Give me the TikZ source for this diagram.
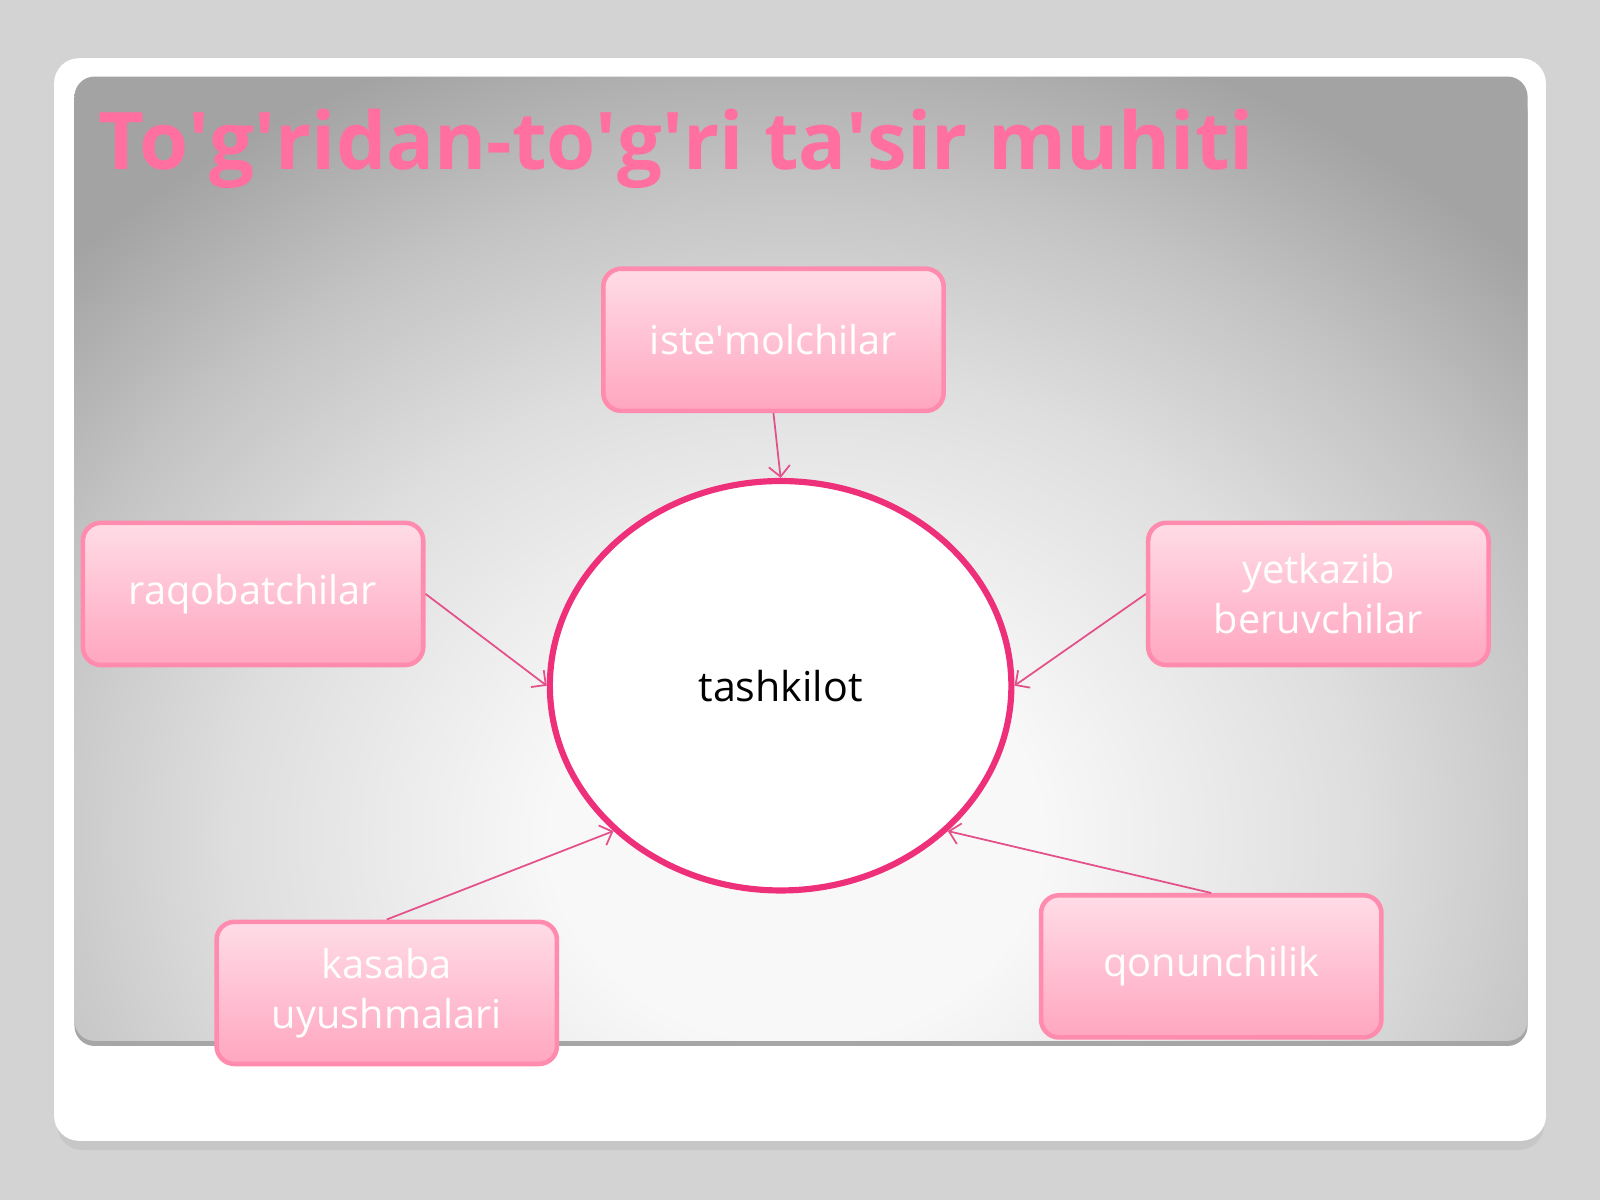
\documentclass[tikz,border=0pt]{standalone}
\usepackage{fontspec}
\setmainfont{Open Sans}
\usetikzlibrary{shapes.geometric,arrows.meta}
\definecolor{pagegray}{RGB}{211,211,211}
\definecolor{titlepink}{RGB}{255,112,160}
\definecolor{hubline}{RGB}{238,48,122}
\definecolor{linkpink}{RGB}{228,80,138}
\definecolor{boxline}{RGB}{255,140,175}
\definecolor{boxtop}{RGB}{255,220,231}
\definecolor{boxbot}{RGB}{255,166,192}
\definecolor{glowA}{RGB}{248,248,248}
\definecolor{glowB}{RGB}{222,222,222}
\definecolor{glowC}{RGB}{196,196,196}
\definecolor{glowD}{RGB}{163,163,163}
\pgfdeclareradialshading{panelglow}{\pgfpoint{0bp}{0bp}}{color(0bp)=(glowA); color(5bp)=(glowA); color(11.5bp)=(glowB); color(16bp)=(glowC); color(20.5bp)=(glowD); color(50bp)=(glowD)}

\begin{document}
\begin{tikzpicture}[x=0.0102cm, y=-0.0102cm,
  pinkbox/.style={draw=boxline, line width=1.3pt, rounded corners=0.18cm,
    top color=boxtop, bottom color=boxbot, text=white, align=center,
    minimum width=3.4cm, minimum height=1.42cm, inner sep=2pt,
    font=\fontsize{11.3}{14.2}\selectfont},
  hub/.style={ellipse, draw=hubline, line width=1.75pt, fill=white,
    minimum width=4.61cm, minimum height=4.09cm, inner sep=0pt,
    font=\fontsize{11.7}{14}\selectfont},
  link/.style={draw=linkpink, line width=0.5pt, -{Straight Barb[length=3pt,width=6pt]}}]
  \useasboundingbox (0,0) rectangle (1568,1176);
  \fill[pagegray] (0,0) rectangle (1568,1176);
  \fill[black!22, rounded corners=0.25cm] (56,64) rectangle (1513,1127);
  \fill[white, rounded corners=0.25cm] (53,57) rectangle (1515,1118);
  \fill[black!35, rounded corners=0.2cm] (73,90) rectangle (1497,1025);
  \begin{scope}
    \clip[rounded corners=0.2cm] (73,75) rectangle (1497,1020);
    \shade[shading=panelglow] (780,820) ellipse [x radius=1200, y radius=1000];
  \end{scope}

  \node[anchor=base west, inner sep=0pt, text=titlepink, font=\bfseries\fontsize{22.6}{28}\selectfont] (title) at (96,166)
    {To\textquotesingle g\textquotesingle ridan-to\textquotesingle g\textquotesingle ri ta\textquotesingle sir muhiti};

  \node[hub] (tk) at (765,672) {tashkilot};
  \node[pinkbox] (iste) at (758,333) {iste\textquotesingle molchilar};
  \node[pinkbox] (raqob) at (248,582) {raqobatchilar};
  \node[pinkbox] (yetkaz) at (1292,582) {yetkazib\\beruvchilar};
  \node[pinkbox] (kasaba) at (379,973) {kasaba\\uyushmalari};
  \node[pinkbox] (qonun) at (1187,947) {qonunchilik};

  \foreach \from/\side/\ang in {iste/south/90, raqob/east/180, yetkaz/west/0, kasaba/north/221, qonun/north/319}
    \draw[link] (\from.\side) -- (tk.\ang);
\end{tikzpicture}
\end{document}
